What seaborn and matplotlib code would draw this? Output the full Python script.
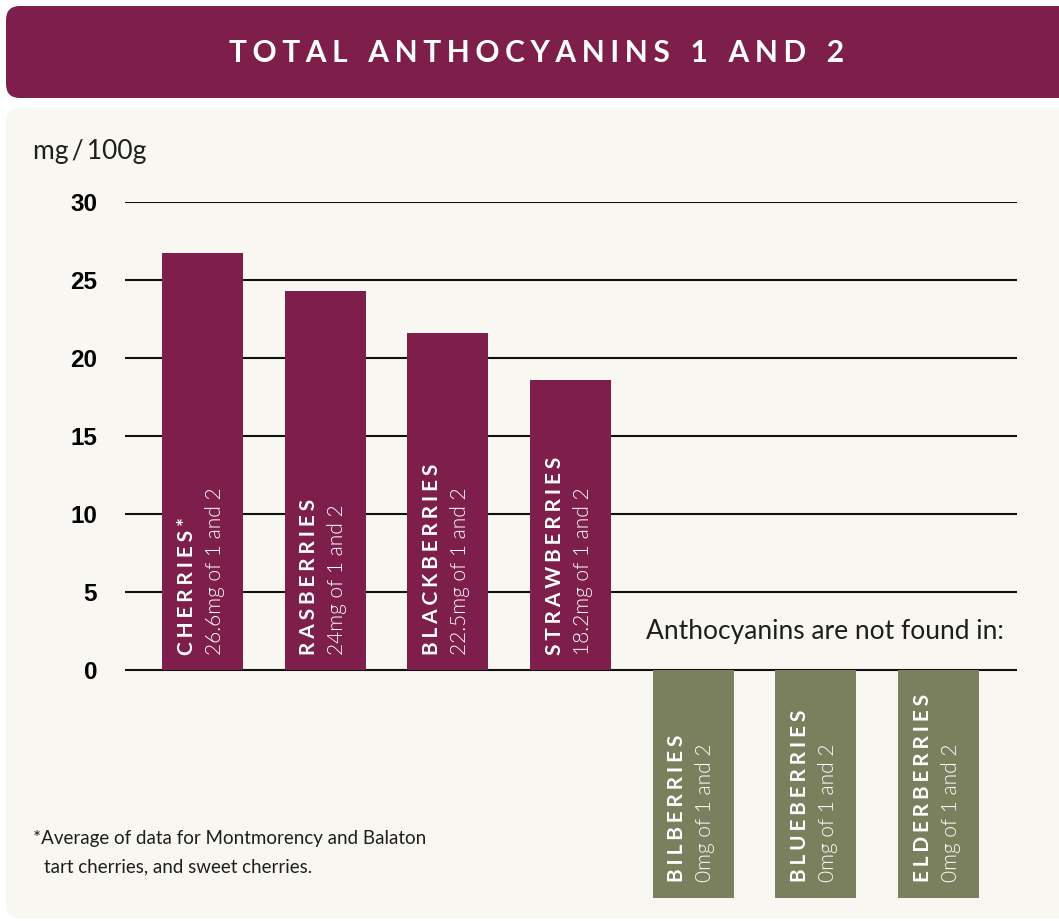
import pandas as pd
import matplotlib.pyplot as plt
import seaborn as sns
from matplotlib.patches import FancyBboxPatch

# bar heights as drawn (mg/100g), labels as printed
berries = ["CHERRIES*", "RASBERRIES", "BLACKBERRIES", "STRAWBERRIES",
           "BILBERRIES", "BLUEBERRIES", "ELDERBERRIES"]
heights = [26.7, 24.3, 21.6, 18.6, -14.6, -14.6, -14.6]   # negative = "not found" box
groups = ["found", "found", "found", "found", "none", "none", "none"]
value_labels = ["26.6mg of 1 and 2", "24mg of 1 and 2", "22.5mg of 1 and 2",
                "18.2mg of 1 and 2", "0mg of 1 and 2", "0mg of 1 and 2",
                "0mg of 1 and 2"]
y_ticks = [0, 5, 10, 15, 20, 25, 30]

MAROON = "#7e1e4a"
OLIVE = "#7a7f5e"
CREAM = "#f8f7f2"


def spaced(s, sep="\u2009", word_sep="\u2002"):
    # fake letter spacing
    return word_sep.join(sep.join(w) for w in s.split())


def main():
    sns.set_style("white")
    plt.rcParams["font.family"] = ["Lato", "DejaVu Sans"]

    fig = plt.figure(figsize=(10.59, 9.21), dpi=100)
    fig.patch.set_facecolor("white")
    H = 921

    # banner and panel, in pixels
    fig.patches.append(FancyBboxPatch((6, H - 98), 1100, 92,
                                      boxstyle="round,pad=0,rounding_size=14",
                                      fc=MAROON, ec="none", transform=None, zorder=-5))
    fig.patches.append(FancyBboxPatch((6, H - 918), 1100, 810,
                                      boxstyle="round,pad=0,rounding_size=14",
                                      fc=CREAM, ec="none", transform=None, zorder=-5))

    fig.text(537 / 1059, 1 - 53 / H,
             spaced("TOTAL ANTHOCYANINS 1 AND 2", "\u2009\u200a", "\u2002\u2009\u200a"),
             color="white", fontsize=21.5, fontweight="bold",
             ha="center", va="center")

    df = pd.DataFrame({"berry": berries, "height": heights, "group": groups})

    # y: 0 -> 670px, 30 -> 202px (15.6 px per unit)
    ymin = -16
    bottom_px = 670 - ymin * 15.6
    ax = fig.add_axes([125 / 1059, 1 - bottom_px / H, 892 / 1059, (bottom_px - 202) / H])
    ax.set_facecolor("none")

    sns.barplot(data=df, x="berry", y="height", hue="group", order=berries,
                palette={"found": MAROON, "none": OLIVE}, dodge=False,
                width=0.66, saturation=1, legend=False, ax=ax, zorder=3,
                linewidth=0)

    ax.set_ylim(ymin, 30)
    ax.set_xlim(-0.632, 6.64)
    ax.set_yticks(y_ticks)
    ax.set_yticklabels([str(t) for t in y_ticks], fontsize=17.5, fontweight="bold",
                       family=["Liberation Sans", "DejaVu Sans"], color="black")
    ax.tick_params(axis="y", length=0, pad=20)
    ax.set_xticks([])
    ax.set_xlabel("")
    ax.set_ylabel("")
    for s in ax.spines.values():
        s.set_visible(False)
    ax.yaxis.grid(True, color="#111111", lw=1.5, zorder=1)
    ax.set_axisbelow(True)

    for i, (name, val, h) in enumerate(zip(berries, value_labels, heights)):
        y0 = 0.95 if h > 0 else -13.6
        ax.text(i - 0.13, y0, spaced(name, "\u2009\u200a"), rotation=90, ha="center",
                va="bottom", color="white", fontsize=15, fontweight="bold", zorder=5)
        ax.text(i + 0.10, y0, val, rotation=90, ha="center", va="bottom",
                color="white", fontsize=15, fontweight=300, zorder=5)

    fig.text(646 / 1059, 1 - 632 / H, "Anthocyanins are not found in:",
             fontsize=19, color="#1e1e1e", ha="left", va="center")
    fig.text(33 / 1059, 1 - 152 / H, "mg\u2009/\u2009100g",
             fontsize=19, color="#1e1e1e", ha="left", va="center")
    fig.text(33 / 1059, 1 - 838 / H, "*Average of data for Montmorency and Balaton",
             fontsize=13.5, color="#1e1e1e", ha="left", va="center")
    fig.text(44 / 1059, 1 - 867 / H, "tart cherries, and sweet cherries.",
             fontsize=13.5, color="#1e1e1e", ha="left", va="center")

    fig.savefig("out.png", dpi=100, facecolor=fig.get_facecolor())


if __name__ == "__main__":
    main()
